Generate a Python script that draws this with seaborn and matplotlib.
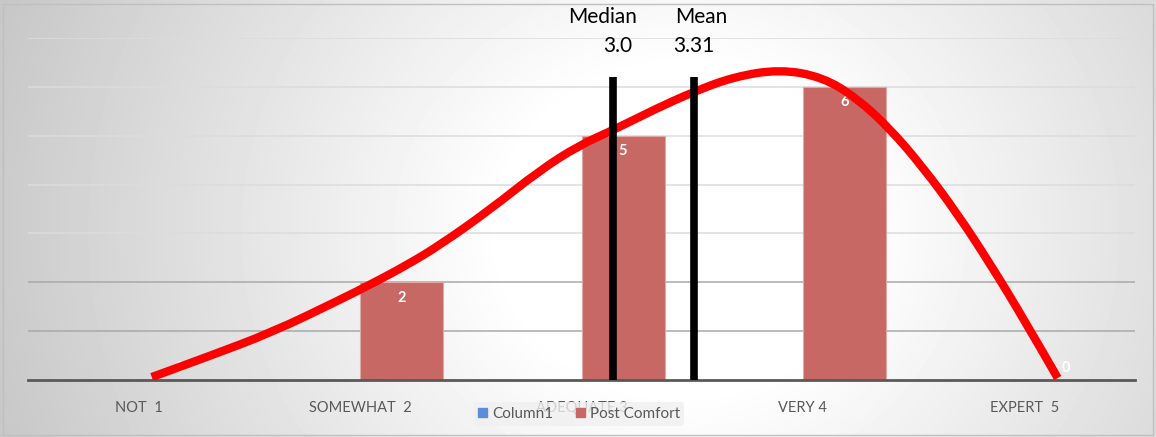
import numpy as np
import pandas as pd
import matplotlib
matplotlib.use("Agg")
import matplotlib.pyplot as plt
import seaborn as sns
from matplotlib.patches import Patch, Rectangle, PathPatch
from matplotlib.path import Path

# ---- data ---------------------------------------------------------------
categories = ["NOT  1", "SOMEWHAT  2", "ADEQUATE 3", "VERY 4", "EXPERT  5"]
series_names = ["Column1", "Post Comfort"]
column1 = [0, 0, 0, 0, 0]
post_comfort = [0, 2, 5, 6, 0]

median_value = 3.0
mean_value = 3.31

# freehand trend curve traced over the bars (category position, count)
curve_x = [0.059, 0.307, 0.605, 0.908, 1.057, 1.210, 1.360, 1.585, 1.811,
           1.992, 2.141, 2.340, 2.502, 2.683, 2.895, 3.089, 3.243, 3.392,
           3.541, 3.695, 3.844, 4.000, 4.151]
curve_y = [0.06, 0.47, 0.98, 1.64, 1.98, 2.35, 2.76, 3.48, 4.29,
           4.81, 5.11, 5.56, 5.89, 6.20, 6.36, 6.20, 5.77, 5.15,
           4.36, 3.42, 2.39, 1.23, 0.04]

# ---- styling ------------------------------------------------------------
W, H = 1156, 437
BAR_RED = "#C76865"
BLUE = "#5B8ED6"
TEXT_GRAY = "#595959"

sns.set_theme(style="white")
plt.rcParams["font.family"] = ["Lato", "DejaVu Sans"]

fig = plt.figure(figsize=(W / 100, H / 100), dpi=100)

# radial grey-to-white background for the whole chart area
bg = fig.add_axes([0, 0, 1, 1], zorder=-10)
yy, xx = np.mgrid[0:H, 0:W]
r = np.sqrt(((xx - 680) / 1.0) ** 2 + ((yy - 230) / 0.9) ** 2)
shade = 1 - 0.22 * np.clip((r - 180) / 540, 0, 1)
bg.imshow(shade, cmap="gray", vmin=0, vmax=1, aspect="auto",
          extent=[0, W, H, 0], interpolation="bilinear")
bg.add_patch(Rectangle((3, 4), W - 6, H - 6, fill=False, ec="#bfbfbf", lw=1))
bg.set_xlim(0, W)
bg.set_ylim(H, 0)
bg.axis("off")

ax = fig.add_axes([28 / W, 1 - 380 / H, (1135 - 28) / W, (380 - 38) / H])
ax.patch.set_alpha(0)

df = pd.DataFrame({
    "category": categories * 2,
    "series": [series_names[0]] * len(categories) + [series_names[1]] * len(categories),
    "value": column1 + post_comfort,
})

# horizontal gridlines
for level in range(1, 8):
    ax.axhline(level, color="#a9a9a9" if level <= 2 else "#dcdcdc",
               lw=1.1, zorder=0)

sns.barplot(data=df, x="category", y="value", hue="series",
            hue_order=series_names, order=categories,
            palette={"Column1": BLUE, "Post Comfort": BAR_RED},
            saturation=1, width=0.75, gap=0, errorbar=None, ax=ax, zorder=2,
            edgecolor="#dfa9a6", linewidth=0.8, legend=False)

ax.set_xlim(-0.5, len(categories) - 0.5)
ax.set_ylim(0, 7)
ax.set_xlabel("")
ax.set_ylabel("")
ax.set_yticks([])
for s in ["top", "right", "left"]:
    ax.spines[s].set_visible(False)
ax.spines["bottom"].set_color(TEXT_GRAY)
ax.spines["bottom"].set_linewidth(2)
ax.tick_params(axis="x", length=0, pad=15, labelsize=10.5, labelcolor=TEXT_GRAY)

# value labels inside the tops of the Post Comfort bars
bar_offset = 0.75 / 4
for i, v in enumerate(post_comfort):
    ax.annotate(str(v), (i + bar_offset, v), xytext=(0, -11 if v > 0 else 9),
                textcoords="offset points", ha="center", va="center",
                color="white", fontsize=10.5, fontweight="bold", zorder=3)

# trend curve, drawn as a smooth quadratic path through the traced points
pts = np.column_stack([curve_x, curve_y])
verts = [pts[0]]
codes = [Path.MOVETO]
verts.append((pts[0] + pts[1]) / 2)
codes.append(Path.LINETO)
for i in range(1, len(pts) - 1):
    verts.extend([pts[i], (pts[i] + pts[i + 1]) / 2 if i < len(pts) - 2 else pts[i + 1]])
    codes.extend([Path.CURVE3, Path.CURVE3])
ax.add_patch(PathPatch(Path(verts, codes), fill=False, ec="#FF0000", lw=6,
                       capstyle="butt", joinstyle="round", zorder=4))

# median / mean markers on their own value scale
ax2 = ax.twiny()
ax2.set_xlim(0.76, 5.0)
ax2.axis("off")
ax2.vlines([median_value, mean_value], 0, 6.2, colors="black", lw=5.5, zorder=5)
ax2.text(median_value - 0.04, 7.42, "Median", ha="center", va="center",
         fontsize=15, color="black", clip_on=False)
ax2.text(median_value + 0.02, 6.83, f"{median_value:.1f}", ha="center", va="center",
         fontsize=15, color="black", clip_on=False)
ax2.text(mean_value + 0.03, 7.42, "Mean", ha="center", va="center",
         fontsize=15, color="black", clip_on=False)
ax2.text(mean_value, 6.83, f"{mean_value:.2f}", ha="center", va="center",
         fontsize=15, color="black", clip_on=False)

handles = [Patch(color=BLUE, label=series_names[0]),
           Patch(color=BAR_RED, label=series_names[1])]
leg = fig.legend(handles=handles, loc="center",
                 bbox_to_anchor=(579 / W, 1 - 414 / H), ncol=2, frameon=True,
                 fontsize=11, handlelength=0.6, handleheight=0.6,
                 handletextpad=0.3, columnspacing=1.5, borderpad=0.3,
                 labelcolor=TEXT_GRAY)
leg.get_frame().set_facecolor("#f0f0f0")
leg.get_frame().set_edgecolor("none")
leg.get_frame().set_alpha(0.8)

fig.savefig("out.png", dpi=100)
